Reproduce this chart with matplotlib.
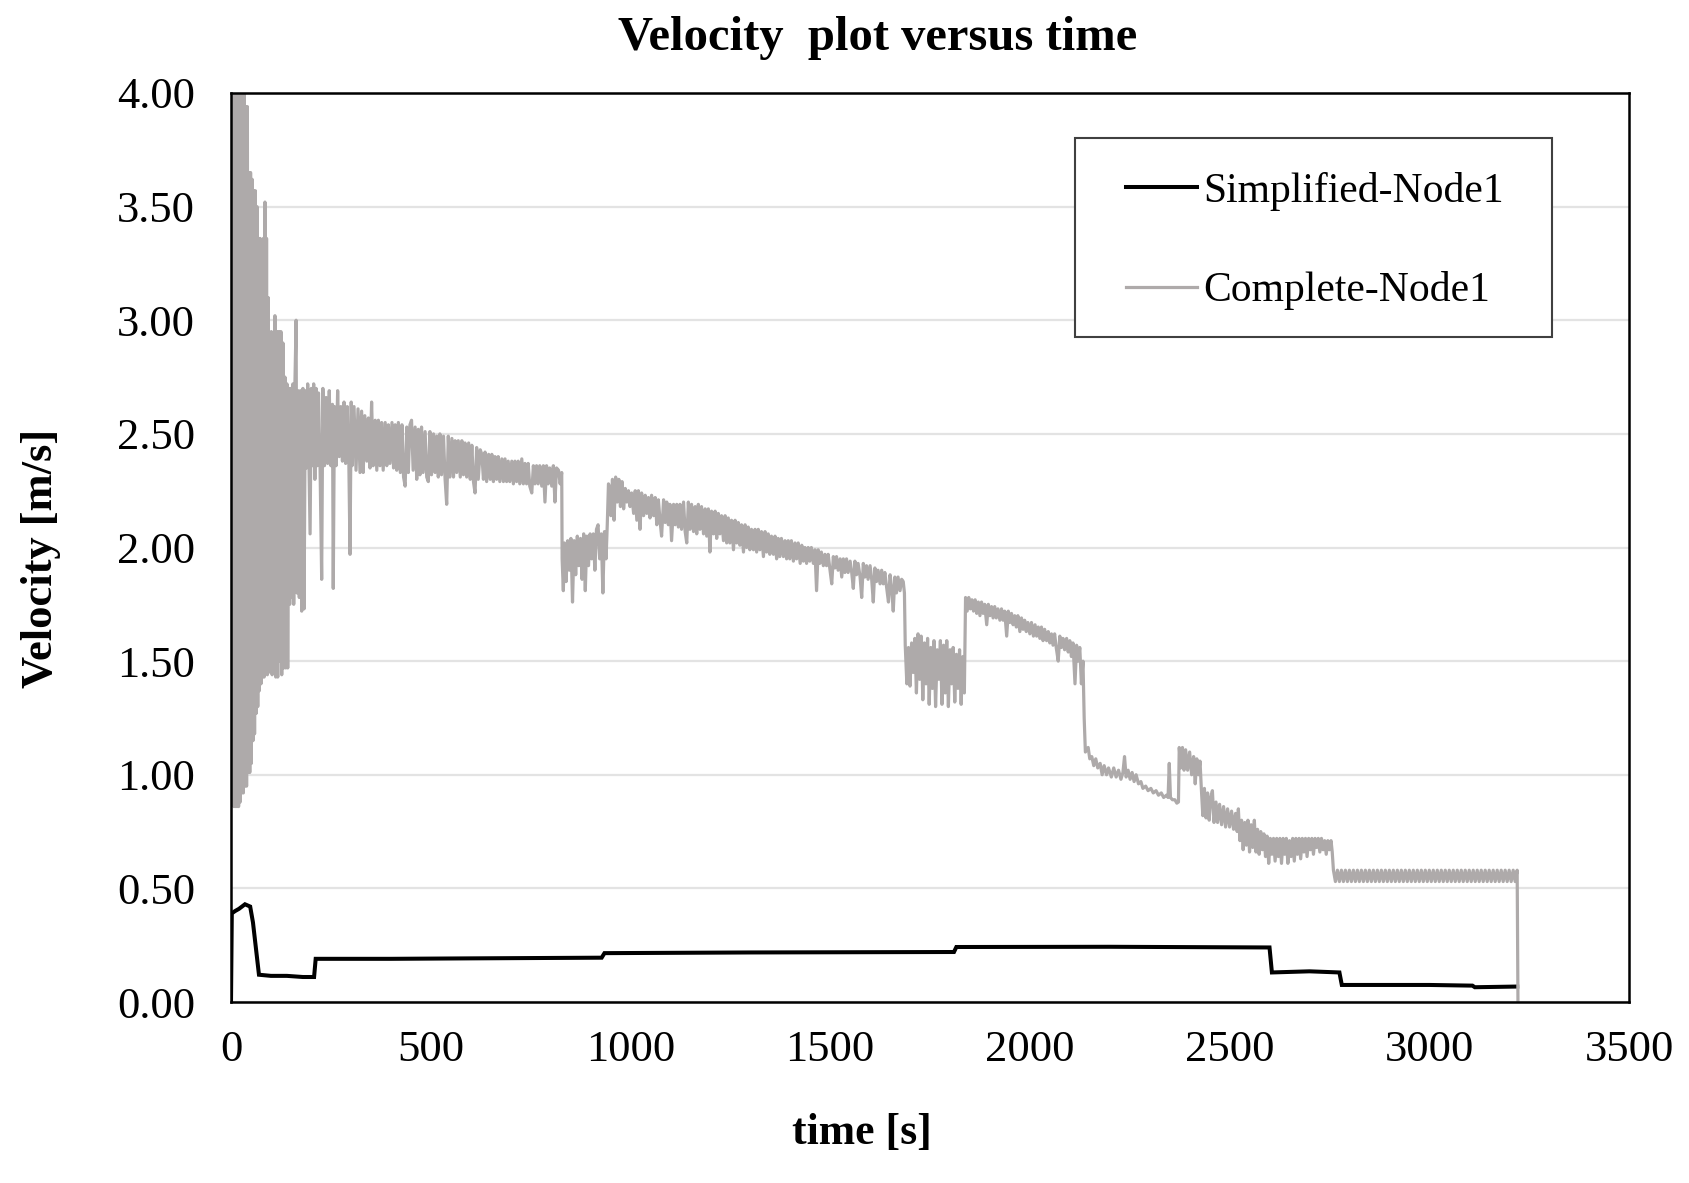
import numpy as np
import matplotlib
matplotlib.use("Agg")
import matplotlib.pyplot as plt
from matplotlib.patches import Rectangle

plt.rcParams['font.family'] = ['Liberation Serif', 'DejaVu Serif']

# ---- data (time [s], velocity [m/s]) ----
simplified_t = [0, 2, 10, 20, 35, 48, 55, 70, 100, 140, 180, 208, 212, 400, 600, 928, 935,
                1300, 1810, 1816, 2200, 2600, 2606, 2700, 2775, 2781, 3000, 3108, 3114, 3220]
simplified_v = [0.0, 0.39, 0.40, 0.41, 0.43, 0.42, 0.35, 0.12, 0.115, 0.115, 0.11, 0.11, 0.19,
                0.19, 0.192, 0.195, 0.215, 0.218, 0.22, 0.242, 0.243, 0.24, 0.13, 0.135, 0.13,
                0.075, 0.075, 0.072, 0.065, 0.068]

# start-up oscillation
seg_startup = [(0, 0.90), (1, 4.00), (3, 0.88), (5, 4.00), (7, 0.86), (9, 4.00), (11, 0.86), (13, 4.00),
               (15, 0.86), (17, 4.00), (19, 0.86), (21, 4.00), (23, 0.88), (25, 4.00), (27, 0.92), (29, 4.00),
               (31, 0.92), (33, 4.00), (35, 0.95), (37, 3.94), (39, 0.95), (41, 3.94), (43, 1.01), (45, 3.65),
               (47, 1.01), (49, 3.65), (51, 1.05), (53, 3.62), (55, 1.15), (57, 3.57), (59, 1.18), (61, 3.57),
               (63, 1.27), (65, 3.50), (67, 1.30), (69, 3.36), (71, 1.37), (73, 3.36), (75, 1.40), (77, 3.27),
               (79, 1.43), (81, 3.36), (83, 1.43), (85, 3.52), (87, 1.45), (89, 3.36), (91, 1.44), (93, 3.10),
               (95, 1.46), (97, 2.93), (99, 1.45), (101, 2.95), (103, 1.44), (105, 2.93), (107, 1.45), (110, 3.02),
               (112, 1.43), (115, 2.95), (117, 1.43), (120, 2.95), (122, 1.50), (125, 2.95), (127, 1.44), (130, 2.90),
               (132, 1.47), (135, 2.75), (137, 1.47), (140, 2.72), (142, 1.47), (145, 2.70), (147, 1.75), (150, 2.70),
               (152, 1.78), (155, 2.72), (157, 1.75), (160, 2.72), (163, 3.00), (165, 1.80), (168, 2.69), (171, 1.78),
               (174, 2.69), (177, 1.72), (180, 2.70), (183, 1.73), (186, 2.69), (189, 2.35), (192, 2.72), (195, 2.38),
               (198, 2.06), (201, 2.70), (204, 2.36), (207, 2.72), (210, 2.30), (213, 2.70), (216, 2.36), (219, 2.68),
               (223, 2.35), (227, 1.86), (230, 2.70), (234, 2.36), (238, 2.66), (242, 2.37), (246, 2.69), (250, 2.36),
               (254, 2.63), (256, 1.82), (259, 2.62), (263, 2.36), (267, 2.69), (271, 2.40), (275, 2.62), (279, 2.38),
               (283, 2.64), (287, 2.37), (291, 2.62), (295, 2.38), (298, 1.97), (301, 2.64)]

# first slow decline up to the drop at ~830 s
seg_decline1 = [(303, 2.36), (308, 2.62), (313, 2.34), (318, 2.61), (323, 2.33), (327, 2.60), (331, 2.33), (335, 2.58),
                (340, 2.38), (344, 2.57), (348, 2.35), (352, 2.64), (356, 2.36), (361, 2.56), (365, 2.34), (369, 2.56),
                (373, 2.36), (377, 2.55), (381, 2.34), (386, 2.55), (390, 2.36), (394, 2.54), (398, 2.37), (403, 2.55),
                (407, 2.35), (411, 2.54), (415, 2.34), (419, 2.55), (424, 2.33), (428, 2.54), (432, 2.31), (436, 2.27),
                (440, 2.53), (444, 2.33), (448, 2.54), (452, 2.56), (456, 2.34), (461, 2.53), (465, 2.30), (469, 2.52),
                (473, 2.32), (477, 2.53), (481, 2.33), (486, 2.51), (490, 2.31), (494, 2.29), (498, 2.51), (502, 2.32),
                (507, 2.50), (511, 2.33), (515, 2.49), (519, 2.31), (523, 2.50), (527, 2.32), (532, 2.49), (536, 2.30),
                (540, 2.19), (544, 2.49), (548, 2.31), (553, 2.48), (557, 2.31), (561, 2.47), (565, 2.33), (569, 2.47),
                (574, 2.31), (578, 2.47), (582, 2.32), (586, 2.46), (590, 2.31), (595, 2.46), (599, 2.30), (603, 2.45),
                (607, 2.29), (611, 2.24), (615, 2.44), (619, 2.30), (624, 2.43), (628, 2.41), (632, 2.30), (636, 2.42),
                (640, 2.29), (645, 2.41), (649, 2.30), (653, 2.41), (657, 2.29), (661, 2.40), (665, 2.30), (669, 2.40),
                (673, 2.29), (678, 2.39), (682, 2.29), (686, 2.39), (690, 2.29), (694, 2.38), (698, 2.29), (703, 2.38),
                (707, 2.28), (711, 2.38), (715, 2.29), (719, 2.38), (723, 2.28), (728, 2.39), (732, 2.28), (736, 2.37),
                (740, 2.28), (744, 2.37), (748, 2.27), (753, 2.24), (757, 2.36), (761, 2.28), (765, 2.36), (769, 2.28),
                (773, 2.36), (778, 2.27), (782, 2.36), (786, 2.20), (790, 2.36), (794, 2.28), (798, 2.35), (803, 2.27),
                (807, 2.36), (811, 2.20), (815, 2.35), (820, 2.34), (824, 2.28), (828, 2.33)]

seg_dip1 = [(829, 1.95), (832, 1.81), (835, 2.02), (839, 1.85), (843, 2.03), (847, 1.90), (851, 2.04), (855, 1.76),
            (859, 2.03), (863, 1.88), (867, 2.05), (871, 1.92), (875, 2.04), (879, 1.86), (883, 2.06), (887, 1.81),
            (891, 2.05), (895, 1.92), (899, 2.06), (903, 1.95), (907, 2.06), (911, 1.90), (915, 2.08), (919, 2.10),
            (923, 1.95), (927, 2.06), (931, 1.80), (935, 2.07), (939, 1.95), (942, 2.10), (945, 2.28)]

seg_decline2 = [(947, 2.27), (951, 2.14), (955, 2.30), (959, 2.12), (963, 2.31), (967, 2.20), (971, 2.30), (975, 2.18),
                (979, 2.29), (983, 2.17), (987, 2.26), (991, 2.20), (995, 2.25), (999, 2.18), (1003, 2.24), (1008, 2.15),
                (1012, 2.25), (1016, 2.12), (1020, 2.25), (1024, 2.08), (1028, 2.24), (1033, 2.14), (1037, 2.23), (1041, 2.15),
                (1045, 2.22), (1049, 2.13), (1053, 2.23), (1058, 2.14), (1062, 2.22), (1066, 2.10), (1070, 2.21), (1074, 2.12),
                (1078, 2.05), (1083, 2.21), (1087, 2.11), (1091, 2.20), (1095, 2.10), (1099, 2.19), (1103, 2.03), (1108, 2.19),
                (1112, 2.10), (1116, 2.19), (1120, 2.09), (1124, 2.19), (1128, 2.08), (1133, 2.20), (1137, 2.07), (1141, 2.02),
                (1145, 2.20), (1149, 2.08), (1153, 2.19), (1158, 2.07), (1162, 2.18), (1166, 2.06), (1170, 2.19), (1174, 2.08),
                (1178, 2.18), (1183, 2.06), (1187, 2.17), (1191, 2.05), (1195, 2.17), (1199, 1.98), (1203, 2.16), (1208, 2.06),
                (1212, 2.16), (1216, 2.04), (1220, 2.15), (1224, 2.06), (1228, 2.14), (1233, 2.03), (1237, 2.14), (1241, 2.02),
                (1245, 2.13), (1249, 2.02), (1253, 2.12), (1258, 1.99), (1262, 2.12), (1266, 2.02), (1270, 2.11), (1274, 2.01),
                (1278, 2.10), (1283, 1.98), (1287, 2.10), (1291, 2.00), (1295, 2.09), (1299, 1.99), (1303, 2.08), (1308, 1.99),
                (1312, 2.08), (1316, 1.98), (1320, 2.08), (1324, 1.99), (1328, 2.07), (1333, 1.96), (1337, 2.07), (1341, 1.98),
                (1345, 2.06), (1349, 1.97), (1353, 2.05), (1358, 1.97), (1362, 2.05), (1366, 1.95), (1370, 2.04), (1374, 1.96),
                (1378, 2.04), (1383, 1.96), (1387, 2.03), (1391, 1.95), (1395, 2.03), (1399, 1.95), (1403, 2.03), (1408, 1.94),
                (1412, 2.02), (1416, 1.95), (1420, 2.02), (1425, 1.93), (1429, 2.01), (1433, 1.94), (1437, 2.00), (1441, 1.93),
                (1445, 2.00), (1449, 1.94), (1453, 2.00), (1458, 1.93), (1462, 1.99), (1466, 1.81), (1470, 1.99), (1474, 1.93),
                (1478, 1.98), (1483, 1.92), (1487, 1.97), (1491, 1.92), (1495, 1.97), (1499, 1.91), (1504, 1.84), (1508, 1.96),
                (1512, 1.91), (1516, 1.96), (1520, 1.90), (1525, 1.95), (1529, 1.87), (1533, 1.95), (1537, 1.89), (1541, 1.95),
                (1545, 1.89), (1550, 1.94), (1554, 1.89), (1558, 1.82), (1562, 1.94), (1566, 1.88), (1570, 1.93), (1575, 1.87),
                (1579, 1.78), (1583, 1.93), (1587, 1.87), (1591, 1.92), (1595, 1.86), (1600, 1.92), (1604, 1.86), (1608, 1.76),
                (1612, 1.91), (1616, 1.85), (1620, 1.90), (1625, 1.84), (1629, 1.90), (1633, 1.84), (1637, 1.89), (1641, 1.83),
                (1646, 1.76), (1650, 1.88), (1654, 1.82), (1658, 1.72), (1662, 1.87), (1666, 1.80), (1670, 1.87), (1675, 1.81),
                (1679, 1.86), (1683, 1.85), (1686, 1.80)]

seg_dip2 = [(1688, 1.57), (1692, 1.40), (1696, 1.56), (1700, 1.39), (1704, 1.58), (1708, 1.45), (1712, 1.60), (1716, 1.36),
            (1720, 1.62), (1724, 1.42), (1728, 1.61), (1732, 1.33), (1736, 1.58), (1740, 1.40), (1744, 1.60), (1748, 1.31),
            (1752, 1.56), (1756, 1.38), (1760, 1.59), (1764, 1.30), (1768, 1.55), (1772, 1.42), (1776, 1.59), (1780, 1.31),
            (1784, 1.57), (1788, 1.36), (1792, 1.59), (1796, 1.30), (1800, 1.55), (1804, 1.40), (1808, 1.56), (1812, 1.32),
            (1816, 1.53), (1820, 1.38), (1824, 1.55), (1828, 1.31), (1832, 1.52), (1836, 1.36), (1839, 1.78)]

seg_decline3 = [(1843, 1.72), (1847, 1.78), (1851, 1.73), (1855, 1.77), (1859, 1.72), (1863, 1.77), (1867, 1.71), (1871, 1.76),
                (1875, 1.70), (1879, 1.76), (1883, 1.71), (1887, 1.75), (1892, 1.66), (1896, 1.75), (1900, 1.70), (1904, 1.74),
                (1908, 1.69), (1912, 1.74), (1916, 1.69), (1920, 1.73), (1925, 1.68), (1929, 1.73), (1933, 1.68), (1937, 1.72),
                (1942, 1.61), (1946, 1.72), (1950, 1.67), (1954, 1.71), (1958, 1.66), (1962, 1.70), (1966, 1.65), (1970, 1.70),
                (1975, 1.63), (1979, 1.69), (1983, 1.64), (1987, 1.68), (1991, 1.63), (1995, 1.67), (2000, 1.62), (2004, 1.67),
                (2009, 1.61), (2013, 1.66), (2017, 1.61), (2021, 1.65), (2025, 1.60), (2029, 1.65), (2033, 1.59), (2037, 1.64),
                (2042, 1.59), (2046, 1.63), (2050, 1.58), (2054, 1.62), (2058, 1.57), (2062, 1.62), (2066, 1.56), (2071, 1.50),
                (2075, 1.61), (2079, 1.56), (2083, 1.60), (2087, 1.55), (2092, 1.60), (2096, 1.54), (2100, 1.59), (2104, 1.52),
                (2108, 1.58), (2113, 1.40), (2117, 1.57), (2121, 1.50), (2125, 1.56), (2129, 1.40), (2133, 1.50)]

seg_tail = [(2136, 1.25), (2139, 1.10), (2146, 1.12), (2150, 1.07), (2155, 1.08), (2160, 1.04), (2165, 1.07), (2170, 1.03),
            (2176, 1.05), (2181, 1.00), (2186, 1.04), (2192, 1.00), (2197, 1.03), (2204, 0.99), (2210, 1.03), (2216, 0.99),
            (2222, 1.02), (2228, 0.98), (2233, 1.01), (2237, 1.08), (2241, 0.99), (2246, 1.02), (2251, 0.98), (2256, 1.01),
            (2261, 0.97), (2266, 1.00), (2272, 0.96), (2278, 0.97), (2283, 0.94), (2290, 0.95), (2296, 0.93), (2303, 0.94),
            (2309, 0.92), (2316, 0.93), (2322, 0.91), (2329, 0.92), (2335, 0.90), (2342, 0.91), (2346, 0.90), (2349, 1.05),
            (2352, 0.90), (2357, 0.89), (2363, 0.89), (2368, 0.875), (2372, 0.88), (2374, 1.12), (2378, 1.03), (2382, 1.12),
            (2386, 1.02), (2390, 1.11), (2395, 1.02), (2400, 1.10), (2405, 1.00), (2410, 1.08), (2414, 0.96), (2418, 1.07),
            (2422, 1.00), (2426, 1.06), (2429, 0.95), (2433, 0.82), (2437, 0.94), (2441, 0.81), (2445, 0.92), (2449, 0.80),
            (2453, 0.90), (2457, 0.93), (2461, 0.79), (2466, 0.88), (2470, 0.79), (2475, 0.87), (2480, 0.78), (2485, 0.86),
            (2490, 0.77), (2495, 0.85), (2500, 0.77), (2505, 0.84), (2510, 0.76), (2515, 0.83), (2519, 0.75), (2522, 0.85),
            (2526, 0.71), (2530, 0.80), (2534, 0.67), (2538, 0.79), (2542, 0.69), (2546, 0.80), (2550, 0.66), (2554, 0.78),
            (2558, 0.68), (2562, 0.80), (2566, 0.66), (2570, 0.76), (2574, 0.65), (2578, 0.75), (2582, 0.67), (2586, 0.74),
            (2590, 0.64), (2594, 0.73), (2598, 0.61), (2602, 0.72), (2606, 0.65), (2610, 0.72), (2614, 0.62), (2618, 0.72),
            (2622, 0.64), (2626, 0.72), (2630, 0.61), (2634, 0.72), (2638, 0.65), (2642, 0.72), (2646, 0.61), (2650, 0.71),
            (2654, 0.64), (2658, 0.72), (2662, 0.62), (2666, 0.72), (2670, 0.65), (2674, 0.72), (2678, 0.63), (2682, 0.72),
            (2686, 0.66), (2690, 0.72), (2694, 0.64), (2698, 0.72), (2702, 0.67), (2706, 0.72), (2710, 0.65), (2714, 0.72),
            (2718, 0.68), (2722, 0.72), (2726, 0.66), (2730, 0.72), (2734, 0.67), (2738, 0.71), (2742, 0.65), (2746, 0.71),
            (2750, 0.67), (2754, 0.71), (2757, 0.66)]

seg_plateau = [(2760, 0.58), (2765, 0.53), (2770, 0.58), (2775, 0.53), (2780, 0.58), (2785, 0.53), (2790, 0.58), (2795, 0.53),
               (2800, 0.58), (2805, 0.53), (2810, 0.58), (2815, 0.53), (2820, 0.58), (2825, 0.53), (2830, 0.58), (2835, 0.53),
               (2840, 0.58), (2845, 0.53), (2850, 0.58), (2855, 0.53), (2860, 0.58), (2865, 0.53), (2870, 0.58), (2875, 0.53),
               (2880, 0.58), (2885, 0.53), (2890, 0.58), (2895, 0.53), (2900, 0.58), (2905, 0.53), (2910, 0.58), (2915, 0.53),
               (2920, 0.58), (2925, 0.53), (2930, 0.58), (2935, 0.53), (2940, 0.58), (2945, 0.53), (2950, 0.58), (2955, 0.53),
               (2960, 0.58), (2965, 0.53), (2970, 0.58), (2975, 0.53), (2980, 0.58), (2985, 0.53), (2990, 0.58), (2995, 0.53),
               (3000, 0.58), (3005, 0.53), (3010, 0.58), (3015, 0.53), (3020, 0.58), (3025, 0.53), (3030, 0.58), (3035, 0.53),
               (3040, 0.58), (3045, 0.53), (3050, 0.58), (3055, 0.53), (3060, 0.58), (3065, 0.53), (3070, 0.58), (3075, 0.53),
               (3080, 0.58), (3085, 0.53), (3090, 0.58), (3095, 0.53), (3100, 0.58), (3105, 0.53), (3110, 0.58), (3115, 0.53),
               (3120, 0.58), (3125, 0.53), (3130, 0.58), (3135, 0.53), (3140, 0.58), (3145, 0.53), (3150, 0.58), (3155, 0.53),
               (3160, 0.58), (3165, 0.53), (3170, 0.58), (3175, 0.53), (3180, 0.58), (3185, 0.53), (3190, 0.58), (3195, 0.53),
               (3200, 0.58), (3205, 0.53), (3210, 0.58), (3215, 0.53), (3220, 0.58), (3222, 0.0)]

complete_segments = [seg_startup, seg_decline1, seg_dip1, seg_decline2, seg_dip2,
                     seg_decline3, seg_tail, seg_plateau]
complete_t = np.array([p[0] for seg in complete_segments for p in seg], dtype=float)
complete_v = np.array([p[1] for seg in complete_segments for p in seg], dtype=float)

x_ticks = [0, 500, 1000, 1500, 2000, 2500, 3000, 3500]
y_ticks = [0.0, 0.5, 1.0, 1.5, 2.0, 2.5, 3.0, 3.5, 4.0]

# ---- figure ----
W, H = 1689, 1183
fig = plt.figure(figsize=(W / 100, H / 100), dpi=100)
ax = fig.add_axes([231 / W, 1 - 1002 / H, (1629 - 231) / W, (1002 - 93) / H])

ax.plot(simplified_t, simplified_v, color='black', lw=2.9, zorder=3,
        solid_joinstyle='miter', label='Simplified-Node1')
ax.plot(complete_t, complete_v, color='#AEAAAA', lw=2.3, zorder=4, label='Complete-Node1')

ax.set_xlim(0, 3500)
ax.set_ylim(0, 4.0)
ax.set_xticks(x_ticks)
ax.set_yticks(y_ticks)
ax.set_yticklabels([f"{v:.2f}" for v in y_ticks])
ax.tick_params(axis='both', length=0, labelsize=32)
ax.tick_params(axis='x', pad=20)
ax.tick_params(axis='y', pad=26)
ax.grid(axis='y', color='#E3E3E3', lw=1.6, zorder=0)
ax.set_axisbelow(True)
for sp in ax.spines.values():
    sp.set_linewidth(1.8)
    sp.set_color('black')
    sp.set_zorder(6)

# legend box drawn separately so its size matches the reference
ax.add_patch(Rectangle(((1075 - 231) / 1398, (1002 - 337) / 909), (1552 - 1075) / 1398, (337 - 138) / 909,
                       transform=ax.transAxes, facecolor='white', edgecolor='#404040', lw=1.5, zorder=5))
leg = ax.legend(loc='upper left', bbox_to_anchor=((1126 - 231) / 1398, (1002 - 172) / 909),
                frameon=False, fontsize=30, handlelength=1.7, handletextpad=0.15,
                labelspacing=1.45, borderpad=0, borderaxespad=0)
leg.set_zorder(7)
for h in leg.get_lines():
    h.set_linewidth(2.9 if h.get_color() == 'black' else 2.3)

fig.text(878 / W, 1 - 38 / H, "Velocity  plot versus time", ha='center', va='center',
         fontsize=35, fontweight='bold')
fig.text(862 / W, 1 - 1133 / H, "time [s]", ha='center', va='center',
         fontsize=31.5, fontweight='bold')
fig.text(41 / W, 1 - 558 / H, "Velocity [m/s]", ha='center', va='center', rotation=90,
         fontsize=32, fontweight='bold')

fig.savefig("out.png", dpi=100, facecolor='white')
